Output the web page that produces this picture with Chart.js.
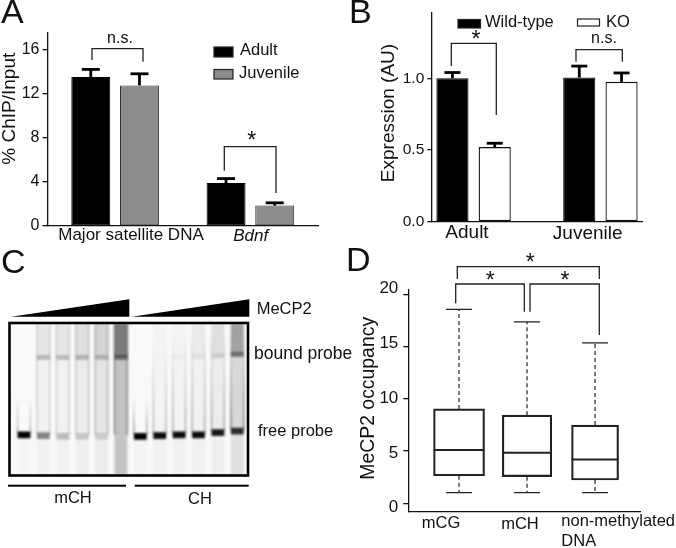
<!DOCTYPE html>
<html>
<head>
<meta charset="utf-8">
<title>MeCP2 panels</title>
<script src="https://cdn.jsdelivr.net/npm/chart.js@4"></script>
<style>
  html, body { margin: 0; padding: 0; background: #fff; }
  #page { position: relative; width: 676px; height: 548px; overflow: hidden; }
  #page canvas { position: absolute; left: 0; top: 0; }
</style>
</head>
<body>
<div id="page">
  <canvas id="panelA" width="676" height="548"></canvas>
  <canvas id="panelB" width="676" height="548"></canvas>
  <canvas id="panelC" width="676" height="548"></canvas>
  <canvas id="panelD" width="676" height="548"></canvas>
</div>
<script>
// Panel A: ChIP
const chipCategories = ['Major satellite DNA', 'Bdnf'];
const chipAdult = [13.5, 3.9];
const chipAdultTop = [14.2, 4.3];
const chipJuvenile = [12.75, 1.85];
const chipJuvenileTop = [13.8, 2.1];

// Panel B: expression
const exprCategories = ['Adult', 'Juvenile'];
const exprWildType = [1.0, 1.005];
const exprWildTypeTop = [1.04, 1.085];
const exprKO = [0.52, 0.975];
const exprKOTop = [0.547, 1.037];

// Panel C: gel, darkness per lane (0-1) and migration distance (0-100)
const gelLanes = ['mCH 1', 'mCH 2', 'mCH 3', 'mCH 4', 'mCH 5', 'mCH 6', 'CH 1', 'CH 2', 'CH 3', 'CH 4', 'CH 5', 'CH 6'];
const gelUpper = [0, 0.07, 0.07, 0.1, 0.15, 0.5, 0, 0.02, 0.02, 0.06, 0.1, 0.35];
const gelMiddle = [0, 0.03, 0.03, 0.05, 0.08, 0.22, 0, 0.02, 0.02, 0.03, 0.05, 0.13];
const gelLower = [0.01, 0.03, 0.03, 0.04, 0.05, 0.22, 0.02, 0.03, 0.03, 0.03, 0.04, 0.1];
const gelBound = [0, 0.22, 0.2, 0.22, 0.2, 0.4, 0, 0, 0.03, 0.05, 0.1, 0.42];
const gelFree = [1, 0.45, 0.22, 0.17, 0.12, 0, 1, 0.95, 0.95, 0.95, 0.9, 0.8];
const gelBoundPos = [22.5, 22.5, 22.5, 22.5, 22.5, 22.5, 22, 22, 22, 22, 21.5, 20.5];
const gelFreePos = [73.5, 74, 74.5, 74.5, 74.5, 74.5, 74.5, 74, 73.5, 73.5, 72, 71];
const gelStreak = [0.3, 0.16, 0.16, 0.2, 0.24, 0.4, 0.4, 0.3, 0.35, 0.35, 0.35, 0.5];
const gelStreakTop = [48, 0, 0, 0, 0, 0, 48, 12, 6, 0, 0, 0];

// Panel D: occupancy boxes
const occCategories = ['mCG', 'mCH', 'non-methylated', 'DNA'];
const occLow = [1.02, 1.02, 1.02];
const occQ1 = [2.64, 2.55, 2.23];
const occMedian = [5.09, 4.84, 4.2];
const occQ3 = [9.03, 8.43, 7.48];
const occHigh = [18.55, 17.35, 15.34];
const occTickLabels = ['0', '5', '10', '15', '20'];

const W = 676, H = 548;
const AXIS_W = 40;
const INK = '#111';
const FONT = '"Liberation Sans", Arial, sans-serif';

Chart.defaults.animation = false;
Chart.defaults.font.family = FONT;
Chart.defaults.color = INK;
Chart.defaults.plugins.legend.display = false;
Chart.defaults.plugins.tooltip.enabled = false;

// chart area pinned to page pixels, every canvas covers the whole page
function pin(l, t, r, b, axisW = AXIS_W) {
  return { autoPadding: false, padding: { left: l - axisW, top: t, right: W - r, bottom: H - b } };
}

function yAxis(min, max, step, size, tickLen, showLabels) {
  return {
    min, max,
    afterFit: s => { s.width = AXIS_W; },
    border: { display: true, color: INK, width: 1.3 },
    grid: { drawOnChartArea: false, drawTicks: true, tickLength: tickLen, color: INK, lineWidth: 1.3 },
    ticks: {
      stepSize: step, includeBounds: false, padding: 3, color: INK, display: showLabels,
      font: { size }, callback: v => (step < 1 ? v.toFixed(1) : v)
    }
  };
}

function xAxis(extra) {
  return Object.assign({
    afterFit: s => { s.height = 0; },
    border: { display: true, color: INK, width: 1.3 },
    grid: { display: false },
    ticks: { display: false }
  }, extra);
}

function drawText(ctx, t) {
  ctx.save();
  ctx.fillStyle = INK;
  ctx.font = (t.style || '') + ' ' + t.size + 'px ' + FONT;
  ctx.textAlign = t.align || 'left';
  ctx.textBaseline = 'middle';
  ctx.translate(t.x, t.y);
  if (t.rot) ctx.rotate(t.rot);
  ctx.fillText(t.s, 0, 0);
  ctx.restore();
}

function drawBracket(ctx, b) {
  ctx.save();
  ctx.strokeStyle = '#222';
  ctx.lineWidth = 1.3;
  ctx.beginPath();
  ctx.moveTo(b.x0, b.y0);
  ctx.lineTo(b.x0, b.top);
  ctx.lineTo(b.x1, b.top);
  ctx.lineTo(b.x1, b.y1);
  ctx.stroke();
  ctx.restore();
}

// error caps on top of the bars of one dataset
function drawErrors(chart, dsIndex, tops, capW, thick) {
  const ctx = chart.ctx, y = chart.scales.y;
  const meta = chart.getDatasetMeta(dsIndex);
  const values = chart.data.datasets[dsIndex].data;
  let n = 0;
  ctx.save();
  ctx.fillStyle = '#000';
  values.forEach((v, i) => {
    if (v === null) return;
    const px = meta.data[i].x, yTop = y.getPixelForValue(tops[n++]), y0 = y.getPixelForValue(v);
    ctx.fillRect(px - 1.4, yTop, 2.8, y0 - yTop);
    ctx.fillRect(px - capW / 2, yTop - thick / 2, capW, thick);
  });
  ctx.restore();
}

function overlay(opts) {
  return {
    id: 'overlay',
    afterDatasetsDraw(chart) {
      const ctx = chart.ctx;
      if (opts.after) opts.after(chart);
      (opts.swatches || []).forEach(s => {
        ctx.fillStyle = s.fill;
        ctx.fillRect(s.x, s.y, s.w, s.h);
        ctx.strokeStyle = '#222';
        ctx.lineWidth = 1.2;
        ctx.strokeRect(s.x, s.y, s.w, s.h);
      });
      (opts.brackets || []).forEach(b => drawBracket(ctx, b));
      (opts.texts || []).forEach(t => drawText(ctx, t));
    }
  };
}

const UP = -Math.PI / 2;

// A
new Chart(document.getElementById('panelA'), {
  type: 'bar',
  data: {
    labels: chipCategories,
    datasets: [
      { label: 'Adult', data: chipAdult, backgroundColor: '#000', borderColor: '#000', borderWidth: 1, borderSkipped: false },
      { label: 'Juvenile', data: chipJuvenile, backgroundColor: '#8c8c8c', borderColor: '#333', borderWidth: 1, borderSkipped: false }
    ]
  },
  options: {
    responsive: false,
    layout: pin(47.5, 33, 318, 226),
    categoryPercentage: 0.72,
    barPercentage: 0.8,
    scales: { x: xAxis(), y: yAxis(0, 17.5, 4, 16, 5, true) }
  },
  plugins: [overlay({
    after(chart) {
      drawErrors(chart, 0, chipAdultTop, 18, 2.8);
      drawErrors(chart, 1, chipJuvenileTop, 18, 2.8);
    },
    swatches: [
      { x: 214, y: 47, w: 19, h: 10, fill: '#000' },
      { x: 214, y: 69.5, w: 19, h: 9.5, fill: '#8c8c8c' }
    ],
    brackets: [
      { x0: 92, y0: 60, top: 48.7, x1: 143, y1: 61.7 },
      { x0: 224.3, y0: 170.7, top: 146.7, x1: 276, y1: 193 }
    ],
    texts: [
      { s: 'A', x: 1, y: 14, size: 34 },
      { s: '% ChIP/Input', x: 10, y: 108.7, size: 19, rot: UP, align: 'center' },
      { s: chipCategories[0], x: 131, y: 235.7, size: 17, align: 'center' },
      { s: chipCategories[1], x: 250.7, y: 236.7, size: 17, align: 'center', style: 'italic' },
      { s: 'Adult', x: 240, y: 50, size: 16.5 },
      { s: 'Juvenile', x: 239, y: 73, size: 16.5 },
      { s: 'n.s.', x: 120, y: 38.5, size: 16, align: 'center' },
      { s: '*', x: 251.7, y: 142, size: 23, align: 'center' }
    ]
  })]
});

// B: five slots, the third one stays empty
new Chart(document.getElementById('panelB'), {
  type: 'bar',
  data: {
    labels: [exprCategories[0], '', '', exprCategories[1], ''],
    datasets: [
      { label: 'Wild-type', data: [exprWildType[0], null, null, exprWildType[1], null], backgroundColor: '#000', borderColor: '#000', borderWidth: 1, borderSkipped: false, grouped: false },
      { label: 'KO', data: [null, exprKO[0], null, null, exprKO[1]], backgroundColor: '#fff', borderColor: '#111', borderWidth: 1.3, borderSkipped: false, grouped: false }
    ]
  },
  options: {
    responsive: false,
    layout: pin(431.3, 10, 642.7, 221.7),
    categoryPercentage: 1,
    barPercentage: 0.76,
    scales: { x: xAxis(), y: yAxis(0, 1.46, 0.5, 15.5, 4, true) }
  },
  plugins: [overlay({
    after(chart) {
      drawErrors(chart, 0, [exprWildTypeTop[0], exprWildTypeTop[1]], 16, 2.8);
      drawErrors(chart, 1, [exprKOTop[0], exprKOTop[1]], 16, 2.8);
    },
    swatches: [
      { x: 458, y: 19.5, w: 22.5, h: 8.5, fill: '#000' },
      { x: 577.5, y: 19, w: 22, h: 7, fill: '#fff' }
    ],
    brackets: [
      { x0: 451.3, y0: 66, top: 43.3, x1: 496.3, y1: 115 },
      { x0: 576, y0: 61.7, top: 49.7, x1: 622.3, y1: 61.7 }
    ],
    texts: [
      { s: 'B', x: 349, y: 14, size: 34 },
      { s: 'Expression (AU)', x: 389, y: 113, size: 19, rot: UP, align: 'center' },
      { s: exprCategories[0], x: 467, y: 232.7, size: 19, align: 'center' },
      { s: exprCategories[1], x: 587.7, y: 234, size: 19, align: 'center' },
      { s: 'Wild-type', x: 485, y: 22, size: 16.5 },
      { s: 'KO', x: 606, y: 22, size: 16.5 },
      { s: 'n.s.', x: 604, y: 38.5, size: 16, align: 'center' },
      { s: '*', x: 476, y: 41, size: 23, align: 'center' }
    ]
  })]
});

// C: gel as floating bars, one layer per dataset
const grey = a => `rgba(0,0,0,${a})`;
const gelLayer = (from, to, levels) => ({
  data: gelLanes.map((_, i) => [from(i), to(i)]),
  backgroundColor: levels.map(grey),
  borderWidth: 0,
  grouped: false
});

new Chart(document.getElementById('panelC'), {
  type: 'bar',
  data: {
    labels: gelLanes,
    datasets: [
      gelLayer(() => 0, i => gelBoundPos[i], gelUpper),
      gelLayer(i => gelBoundPos[i], i => gelFreePos[i], gelMiddle),
      gelLayer(i => gelFreePos[i], () => 100, gelLower),
      gelLayer(i => gelBoundPos[i] - 1.6, i => gelBoundPos[i] + 1.6, gelBound),
      gelLayer(i => gelFreePos[i] - 2.2, i => gelFreePos[i] + 2.2, gelFree)
    ]
  },
  options: {
    responsive: false,
    layout: pin(14.3, 323.5, 247, 475, 0),
    categoryPercentage: 1,
    barPercentage: 0.66,
    scales: {
      x: { display: false },
      y: { display: false, min: 0, max: 100, reverse: true }
    }
  },
  plugins: [{
    id: 'gelBlur',
    beforeDatasetsDraw(chart) {
      const ctx = chart.ctx;
      ctx.fillStyle = '#f9f9f9';
      ctx.fillRect(9.5, 323, 238.5, 152.5);
      ctx.filter = 'blur(1px)';
    },
    afterDatasetsDraw(chart) {
      const ctx = chart.ctx, x = chart.scales.x, y = chart.scales.y;
      // edges of the wells, they fade out towards the top
      gelLanes.forEach((_, i) => {
        const half = 6.4, cx = x.getPixelForValue(i);
        const y0 = y.getPixelForValue(gelStreakTop[i]), y1 = y.getPixelForValue(gelFreePos[i] - 1);
        const fade = ctx.createLinearGradient(0, y0, 0, y1);
        fade.addColorStop(0, grey(gelStreakTop[i] > 0 || i > 5 ? 0 : gelStreak[i]));
        fade.addColorStop(1, grey(gelStreak[i]));
        ctx.strokeStyle = fade;
        ctx.lineWidth = 1.4;
        [-half, half].forEach(dx => {
          ctx.beginPath();
          ctx.moveTo(cx + dx, y0);
          ctx.lineTo(cx + dx, y1);
          ctx.stroke();
        });
      });
      ctx.filter = 'none';
    }
  }, overlay({
    after(chart) {
      const ctx = chart.ctx;
      ctx.strokeStyle = '#000';
      ctx.lineWidth = 2.6;
      ctx.strokeRect(9.5, 323, 238.5, 152.5);
      ctx.fillStyle = '#000';
      [[11, 129.3], [131.7, 249.3]].forEach(([a, b]) => {
        ctx.beginPath();
        ctx.moveTo(a, 316.7);
        ctx.lineTo(b, 316.7);
        ctx.lineTo(b, 299.3);
        ctx.closePath();
        ctx.fill();
      });
      ctx.fillRect(8, 484.7, 118, 2);
      ctx.fillRect(134.7, 484.7, 114, 2);
    },
    texts: [
      { s: 'C', x: 1, y: 264, size: 34 },
      { s: 'MeCP2', x: 256.7, y: 309, size: 16.5 },
      { s: 'bound probe', x: 254, y: 354, size: 17.5 },
      { s: 'free probe', x: 258, y: 431, size: 16.5 },
      { s: 'mCH', x: 73, y: 498, size: 16.5, align: 'center' },
      { s: 'CH', x: 200, y: 499, size: 16.5, align: 'center' }
    ]
  })]
});

// D: boxes are floating bars on a linear x scale, 1..3
const boxWidths = [51, 49.5, 47];
new Chart(document.getElementById('panelD'), {
  type: 'bar',
  data: {
    datasets: occQ1.map((q1, i) => ({
      data: [{ x: i + 1, y: [q1, occQ3[i]] }],
      backgroundColor: 'rgba(0,0,0,0)',
      borderColor: '#222',
      borderWidth: 1.5,
      borderSkipped: false,
      barThickness: boxWidths[i],
      grouped: false
    }))
  },
  options: {
    responsive: false,
    layout: pin(408.3, 290, 640, 511.7),
    scales: {
      x: xAxis({ type: 'linear', offset: false, bounds: 'data', min: 0.254, max: 3.661 }),
      y: yAxis(-0.8, 20.4, 5, 17, 5, false)
    }
  },
  plugins: [overlay({
    after(chart) {
      const ctx = chart.ctx, x = chart.scales.x, y = chart.scales.y;
      const capW = 26;
      occQ1.forEach((q1, i) => {
        const cx = x.getPixelForValue(i + 1);
        ctx.save();
        ctx.strokeStyle = '#222';
        ctx.lineWidth = 1.2;
        ctx.setLineDash([4, 3]);
        ctx.beginPath();
        ctx.moveTo(cx, y.getPixelForValue(occQ3[i]));
        ctx.lineTo(cx, y.getPixelForValue(occHigh[i]));
        ctx.moveTo(cx, y.getPixelForValue(q1));
        ctx.lineTo(cx, y.getPixelForValue(occLow[i]));
        ctx.stroke();
        ctx.setLineDash([]);
        ctx.beginPath();
        [occHigh[i], occLow[i]].forEach(v => {
          ctx.moveTo(cx - capW / 2, y.getPixelForValue(v));
          ctx.lineTo(cx + capW / 2, y.getPixelForValue(v));
        });
        ctx.stroke();
        ctx.lineWidth = 2;
        ctx.beginPath();
        ctx.moveTo(cx - boxWidths[i] / 2, y.getPixelForValue(occMedian[i]));
        ctx.lineTo(cx + boxWidths[i] / 2, y.getPixelForValue(occMedian[i]));
        ctx.stroke();
        ctx.restore();
      });
    },
    brackets: [
      { x0: 457.3, y0: 279, top: 266.7, x1: 599.3, y1: 279 },
      { x0: 455.7, y0: 303.3, top: 284, x1: 524.3, y1: 311.7 },
      { x0: 530, y0: 311.7, top: 284, x1: 599.3, y1: 335 }
    ],
    texts: [
      { s: 'D', x: 346, y: 262, size: 34 },
      { s: 'MeCP2 occupancy', x: 368.3, y: 398.3, size: 19.4, rot: UP, align: 'center' },
      { s: occTickLabels[0], x: 398.3, y: 507.7, size: 17, align: 'right' },
      { s: occTickLabels[1], x: 398.3, y: 453, size: 17, align: 'right' },
      { s: occTickLabels[2], x: 398.3, y: 398, size: 17, align: 'right' },
      { s: occTickLabels[3], x: 398.3, y: 343, size: 17, align: 'right' },
      { s: occTickLabels[4], x: 398.3, y: 288, size: 17, align: 'right' },
      { s: occCategories[0], x: 441, y: 523.3, size: 16.5, align: 'center' },
      { s: occCategories[1], x: 520, y: 524, size: 16.5, align: 'center' },
      { s: occCategories[2], x: 561.3, y: 521.7, size: 16.5 },
      { s: occCategories[3], x: 561.3, y: 541, size: 16.5 },
      { s: '*', x: 530.3, y: 264, size: 23, align: 'center' },
      { s: '*', x: 490.3, y: 282, size: 23, align: 'center' },
      { s: '*', x: 565, y: 282, size: 23, align: 'center' }
    ]
  })]
});
</script>
</body>
</html>
